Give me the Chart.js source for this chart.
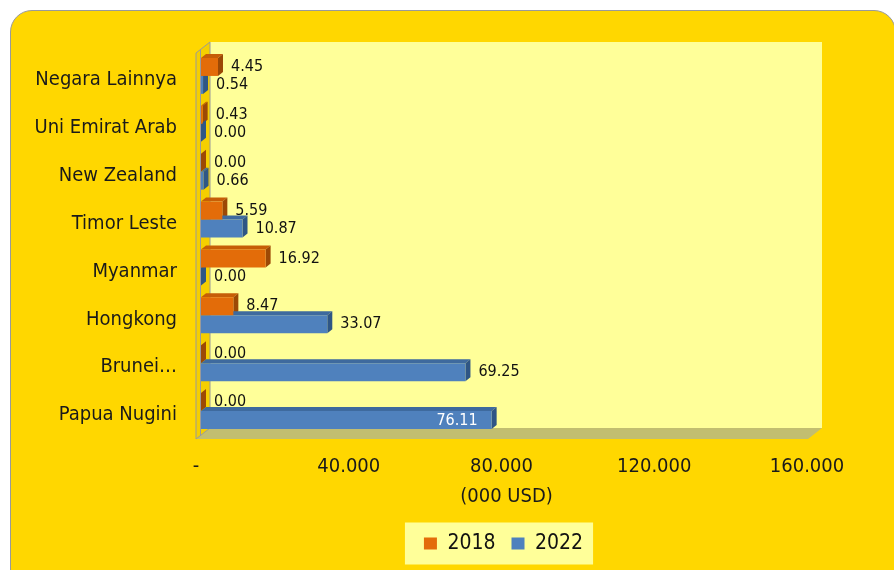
<!DOCTYPE html>
<html>
<head>
<meta charset="utf-8">
<script src="https://cdn.jsdelivr.net/npm/chart.js@4.4.1/dist/chart.umd.min.js"></script>
<style>
  html, body { margin: 0; padding: 0; background: #fff; width: 894px; height: 570px; overflow: hidden; }
  #frame { position: absolute; left: 10px; top: 10px; width: 884px; height: 580px; background: #FFD700; border: 1px solid #9a9a9a; border-radius: 22px; }
  #wrap { position: absolute; left: 0; top: 0; width: 894px; height: 570px; }
</style>
</head>
<body>
<div id="frame"></div>
<div id="wrap"><canvas id="chart"></canvas></div>
<script>
// data
const categories = ["Negara Lainnya", "Uni Emirat Arab", "New Zealand", "Timor Leste", "Myanmar", "Hongkong", "Brunei…", "Papua Nugini"];
const seriesNames = ["2018", "2022"];
const values2018 = [4.45, 0.43, 0.00, 5.59, 16.92, 8.47, 0.00, 0.00];
const values2022 = [0.54, 0.00, 0.66, 10.87, 0.00, 33.07, 69.25, 76.11];
const xTicks = [0, 40, 80, 120, 160];
const xTitle = "(000 USD)";

const FONT = "'DejaVu Sans Condensed', 'DejaVu Sans', sans-serif";
const colors = [
  { front: "#E36C09", top: "#C65E07", side: "#9C4905" },
  { front: "#4F81BD", top: "#3E6A9E", side: "#2F5685" },
];

// 3D look: back wall, floor, left wall, bar tops and sides
const depth3d = {
  id: "depth3d",
  afterLayout(chart) {
    // legend sits under the middle of the plot, not the canvas
    const lg = chart.legend;
    const shift = (chart.chartArea.left + chart.chartArea.right) / 2 - (lg.left + lg.right) / 2 - 3;
    lg.left += shift;
    lg.right += shift;
    if (lg.legendHitBoxes) lg.legendHitBoxes.forEach(b => { b.left += shift; });
  },
  beforeDraw(chart) {
    const { ctx, chartArea: ca } = chart;
    const fx = ca.left - 5, fy = ca.bottom + 4;
    const bx = fx + 14, by = fy - 11, rx = ca.right + 10, ty = ca.top - 10;
    ctx.save();
    // back wall
    ctx.fillStyle = "#FFFF99";
    ctx.fillRect(bx, ty, rx - bx, by - ty);
    // floor
    ctx.fillStyle = "#C2BE70";
    ctx.beginPath();
    ctx.moveTo(fx, fy);
    ctx.lineTo(ca.right - 4, fy);
    ctx.lineTo(rx, by);
    ctx.lineTo(bx, by);
    ctx.closePath();
    ctx.fill();
    // left wall
    ctx.fillStyle = "#F5CF00";
    ctx.strokeStyle = "#9a9a9a";
    ctx.lineWidth = 1;
    ctx.beginPath();
    ctx.moveTo(fx, fy);
    ctx.lineTo(fx, ty + 11);
    ctx.lineTo(bx, ty);
    ctx.lineTo(bx, by);
    ctx.closePath();
    ctx.fill();
    ctx.stroke();
    ctx.beginPath();
    ctx.moveTo(fx + 4.5, fy - 3);
    ctx.lineTo(fx + 4.5, ty + 8);
    ctx.stroke();

    // legend background
    const boxes = chart.legend.legendHitBoxes;
    if (boxes && boxes.length) {
      const l = Math.min(...boxes.map(b => b.left)) - 19;
      const r = Math.max(...boxes.map(b => b.left + b.width)) + 10;
      const cy = boxes[0].top + boxes[0].height / 2;
      ctx.fillStyle = "#FFFF99";
      ctx.fillRect(l, cy - 21, r - l, 42);
    }
    ctx.restore();
  },
  beforeDatasetsDraw(chart) {
    const { ctx } = chart;
    const dx = 5, dy = 4;
    ctx.save();
    chart.data.datasets.forEach((ds, i) => {
      const meta = chart.getDatasetMeta(i);
      meta.data.forEach((el) => {
        const t = el.y - el.height / 2, b = el.y + el.height / 2;
        ctx.fillStyle = colors[i].top;
        ctx.beginPath();
        ctx.moveTo(el.base, t);
        ctx.lineTo(el.x, t);
        ctx.lineTo(el.x + dx, t - dy);
        ctx.lineTo(el.base + dx, t - dy);
        ctx.closePath();
        ctx.fill();
        ctx.fillStyle = colors[i].side;
        ctx.beginPath();
        ctx.moveTo(el.x, t);
        ctx.lineTo(el.x + dx, t - dy);
        ctx.lineTo(el.x + dx, b - dy);
        ctx.lineTo(el.x, b);
        ctx.closePath();
        ctx.fill();
      });
    });
    ctx.restore();
  },
  afterDatasetsDraw(chart) {
    const { ctx } = chart;
    const maxVal = Math.max(...values2018, ...values2022);
    ctx.save();
    ctx.font = "16px " + FONT;
    ctx.textBaseline = "middle";
    chart.data.datasets.forEach((ds, i) => {
      const meta = chart.getDatasetMeta(i);
      meta.data.forEach((el, j) => {
        const v = ds.data[j];
        const txt = v.toFixed(2);
        if (v === maxVal) {
          ctx.fillStyle = "#ffffff";
          ctx.textAlign = "right";
          ctx.fillText(txt, el.x - 14, el.y + 1);
        } else {
          ctx.fillStyle = "#111111";
          ctx.textAlign = "left";
          ctx.fillText(txt, el.x + 13, el.y);
        }
      });
    });
    ctx.restore();
  },
};

new Chart(document.getElementById("chart"), {
  type: "bar",
  data: {
    labels: categories,
    datasets: [
      { label: seriesNames[0], data: values2018, backgroundColor: colors[0].front, borderWidth: 0 },
      { label: seriesNames[1], data: values2022, backgroundColor: colors[1].front, borderWidth: 0 },
    ],
  },
  options: {
    indexAxis: "y",
    responsive: true,
    maintainAspectRatio: false,
    animation: false,
    categoryPercentage: 0.75,
    barPercentage: 1,
    layout: { padding: { left: 0, top: 52, right: 82, bottom: 6 } },
    scales: {
      x: {
        min: xTicks[0],
        max: xTicks[xTicks.length - 1],
        afterBuildTicks: (scale) => { scale.ticks = xTicks.map(v => ({ value: v })); },
        afterFit: (scale) => { scale.height = 82; },
        grid: { display: false, drawTicks: false },
        border: { display: false },
        ticks: {
          padding: 20,
          labelOffset: -5,
          color: "#1a1a1a",
          font: { family: FONT, size: 20 },
          callback: (v) => (v === 0 ? "-" : v.toFixed(3)),
        },
        title: {
          display: true,
          text: xTitle,
          color: "#1a1a1a",
          font: { family: FONT, size: 20 },
          padding: { top: 0, bottom: 8 },
        },
      },
      y: {
        afterFit: (scale) => { scale.width = 201; },
        grid: { display: false, drawTicks: false },
        border: { display: false },
        ticks: {
          padding: 24,
          labelOffset: 4,
          color: "#1a1a1a",
          font: { family: FONT, size: 20 },
        },
      },
    },
    plugins: {
      legend: {
        position: "bottom",
        labels: {
          boxWidth: 13,
          boxHeight: 12,
          padding: 16,
          color: "#111",
          font: { family: FONT, size: 21 },
        },
      },
      tooltip: { enabled: false },
    },
  },
  plugins: [depth3d],
});
</script>
</body>
</html>
